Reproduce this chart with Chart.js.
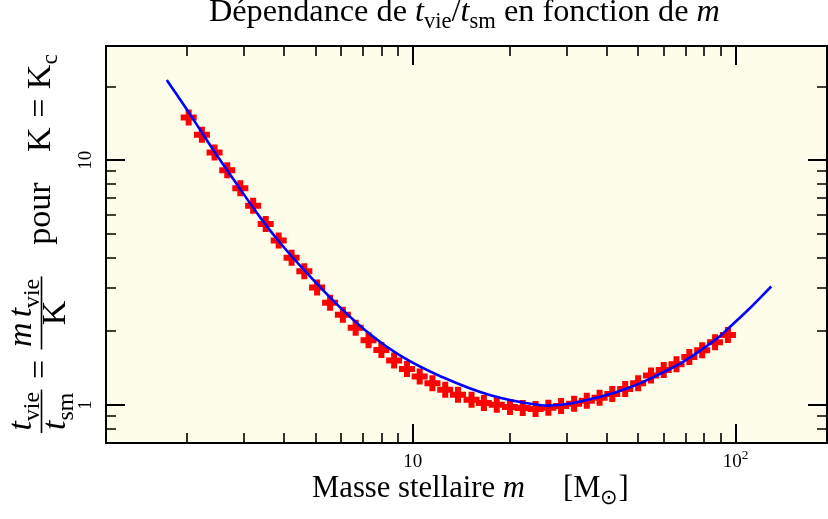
<!DOCTYPE html>
<html lang="fr">
<head>
    <meta charset="UTF-8">
    <script src="https://cdn.jsdelivr.net/npm/chart.js"></script>
    <title>Dépendance de t_vie/t_sm en fonction de m</title>
    <style>
        html, body { margin: 0; padding: 0; background: #fff; overflow: hidden; }
        #chart { display: block; }
    </style>
</head>
<body>
<canvas id="chart" width="828" height="519"></canvas>

<script>
    // points calculés (croix rouges)
    const masses = [2.02, 2.22, 2.43, 2.66, 2.92, 3.20, 3.50, 3.84, 4.21, 4.61,
        5.05, 5.54, 6.07, 6.65, 7.29, 7.99, 8.75, 9.59, 10.5, 11.5,
        12.6, 13.8, 15.2, 16.6, 18.2, 20.0, 21.9, 24.0, 26.3, 28.8,
        31.6, 34.6, 37.9, 41.5, 45.5, 49.9, 54.7, 59.9, 65.6, 71.9,
        78.8, 86.4, 94.7];
    const ratios = [14.96, 12.72, 10.75, 9.11, 7.69, 6.52, 5.49, 4.70, 4.00, 3.52,
        3.02, 2.62, 2.34, 2.07, 1.84, 1.68, 1.52, 1.405, 1.308, 1.229,
        1.154, 1.101, 1.051, 1.019, 1.003, 0.981, 0.972, 0.963, 0.975, 0.991,
        1.012, 1.041, 1.071, 1.111, 1.162, 1.229, 1.320, 1.392, 1.468, 1.572,
        1.673, 1.804, 1.931];

    // ajustement (courbe bleue)
    const fitMasses = [1.728, 2.04, 2.40, 2.85, 3.36, 3.90, 4.56, 5.82, 7.36, 9.23,
        12.12, 17.3, 24.7, 29.1, 37.9, 47, 58.2, 68.7, 87.1, 95.8, 110.5, 129];
    const fitRatios = [21.3, 15.4, 11.1, 7.98, 5.86, 4.56, 3.61, 2.58, 1.95, 1.58,
        1.315, 1.099, 1.00, 1.005, 1.08, 1.18, 1.34, 1.50, 1.86, 2.08, 2.48, 3.05];

    // graduations
    const xMajor = [10, 100];
    const xMajorLabels = ['10', '10'];
    const xMajorExp = ['', '2'];
    const xMinor = [2, 3, 4, 5, 6, 7, 8, 9, 20, 30, 40, 50, 60, 70, 80, 90];
    const yMajor = [1, 10];
    const yMajorLabels = ['1', '10'];
    const yMinor = [0.8, 0.9, 2, 3, 4, 5, 6, 7, 8, 9, 20];

    const SERIF = '"Liberation Serif", "Times New Roman", serif';

    function fontFor(r, size) {
        const s = (r.sub || r.sup) ? size * 0.7 : size;
        return (r.it ? 'italic ' : '') + s.toFixed(2) + 'px ' + SERIF;
    }
    function runsWidth(ctx, runs, size) {
        let w = 0;
        runs.forEach(r => {
            if (r.gap) { w += r.gap * size; return; }
            ctx.font = fontFor(r, size);
            w += ctx.measureText(r.t).width;
        });
        return w;
    }
    function drawRuns(ctx, runs, x, y, size) {
        runs.forEach(r => {
            if (r.gap) { x += r.gap * size; return; }
            ctx.font = fontFor(r, size);
            const dy = r.sub ? size * 0.22 : (r.sup ? -size * 0.4 : 0);
            ctx.fillText(r.t, x, y + dy);
            x += ctx.measureText(r.t).width;
        });
        return x;
    }

    const titleRuns = [
        {t: 'Dépendance de '}, {t: 't', it: true}, {t: 'vie', sub: true}, {t: '/'},
        {t: 't', it: true}, {t: 'sm', sub: true}, {t: ' en fonction de '}, {t: 'm', it: true}
    ];
    const xLabelRuns = [{t: 'Masse stellaire '}, {t: 'm', it: true}];
    const xUnitRuns = [{t: '[M'}, {t: '\u2299', sub: true}, {t: ']'}];
    // label vertical : t_vie/t_sm = m t_vie / K  pour  K = K_c
    const yLabelItems = [
        {frac: {num: [{t: 't', it: true}, {t: 'vie', sub: true}], den: [{t: 't', it: true}, {t: 'sm', sub: true}]}},
        {gap: 0.28}, {runs: [{t: '='}]}, {gap: 0.28},
        {frac: {num: [{t: 'm', it: true}, {gap: 0.15}, {t: 't', it: true}, {t: 'vie', sub: true}], den: [{t: 'K'}]}},
        {gap: 0.9}, {runs: [{t: 'pour'}]}, {gap: 0.9},
        {runs: [{t: 'K'}, {gap: 0.28}, {t: '='}, {gap: 0.28}, {t: 'K'}, {t: 'c', sub: true}]}
    ];

    function itemWidth(ctx, it, size) {
        if (it.gap) return it.gap * size;
        if (it.runs) return runsWidth(ctx, it.runs, size);
        return Math.max(runsWidth(ctx, it.frac.num, size), runsWidth(ctx, it.frac.den, size)) + 0.2 * size;
    }

    const decor = {
        id: 'decor',
        beforeDraw(chart) {
            const ctx = chart.ctx, a = chart.chartArea;
            ctx.save();
            ctx.fillStyle = '#fdfdea';
            ctx.fillRect(a.left, a.top, a.right - a.left, a.bottom - a.top);
            ctx.restore();
        },
        afterDraw(chart) {
            const ctx = chart.ctx, a = chart.chartArea;
            const xs = chart.scales.x, ys = chart.scales.y;
            ctx.save();
            ctx.strokeStyle = '#000';
            ctx.fillStyle = '#000';

            // ticks vers l'interieur, sur les 4 cotes
            function xt(v, len, w) {
                const p = Math.round(xs.getPixelForValue(v));
                ctx.lineWidth = w;
                ctx.beginPath();
                ctx.moveTo(p, a.bottom); ctx.lineTo(p, a.bottom - len);
                ctx.moveTo(p, a.top); ctx.lineTo(p, a.top + len);
                ctx.stroke();
            }
            function yt(v, len, w) {
                const p = Math.round(ys.getPixelForValue(v));
                ctx.lineWidth = w;
                ctx.beginPath();
                ctx.moveTo(a.left, p); ctx.lineTo(a.left + len, p);
                ctx.moveTo(a.right, p); ctx.lineTo(a.right - len, p);
                ctx.stroke();
            }
            xMinor.forEach(v => xt(v, 10, 1.6));
            xMajor.forEach(v => xt(v, 19, 2));
            yMinor.forEach(v => yt(v, 10, 1.6));
            yMajor.forEach(v => yt(v, 19, 2));

            ctx.lineWidth = 2;
            ctx.strokeRect(a.left, a.top, a.right - a.left, a.bottom - a.top);

            // etiquettes des graduations
            ctx.textBaseline = 'alphabetic';
            ctx.textAlign = 'left';
            const tickSize = 19;
            xMajor.forEach((v, i) => {
                const runs = [{t: xMajorLabels[i]}];
                if (xMajorExp[i]) runs.push({t: xMajorExp[i], sup: true});
                const w = runsWidth(ctx, runs, tickSize);
                drawRuns(ctx, runs, xs.getPixelForValue(v) - w / 2, 467, tickSize);
            });
            yMajor.forEach((v, i) => {
                ctx.save();
                ctx.translate(91, ys.getPixelForValue(v));
                ctx.rotate(-Math.PI / 2);
                const runs = [{t: yMajorLabels[i]}];
                const w = runsWidth(ctx, runs, tickSize);
                drawRuns(ctx, runs, -w / 2, 0, tickSize);
                ctx.restore();
            });

            // titre
            let w0 = runsWidth(ctx, titleRuns, 20);
            let s = 20 * 511 / w0;
            drawRuns(ctx, titleRuns, 209, 21, s);

            // axe x
            w0 = runsWidth(ctx, xLabelRuns, 22);
            s = 22 * 213 / w0;
            drawRuns(ctx, xLabelRuns, 312, 497, s);
            drawRuns(ctx, xUnitRuns, 563, 497, s);

            // axe y (texte tourne)
            const ySize = 34;
            let total = 0;
            yLabelItems.forEach(it => { total += itemWidth(ctx, it, ySize); });
            ctx.save();
            ctx.translate(50, 244);
            ctx.rotate(-Math.PI / 2);
            let u = -total / 2;
            const axis = 0.25 * ySize;
            yLabelItems.forEach(it => {
                const w = itemWidth(ctx, it, ySize);
                if (it.runs) {
                    drawRuns(ctx, it.runs, u, 0, ySize);
                } else if (it.frac) {
                    const nw = runsWidth(ctx, it.frac.num, ySize);
                    const dw = runsWidth(ctx, it.frac.den, ySize);
                    drawRuns(ctx, it.frac.num, u + (w - nw) / 2, -axis - 0.3 * ySize, ySize);
                    drawRuns(ctx, it.frac.den, u + (w - dw) / 2, -axis + 0.7 * ySize, ySize);
                    ctx.fillRect(u + 1, -axis - 0.8, w - 2, 1.6);
                }
                u += w;
            });
            ctx.restore();

            ctx.restore();
        }
    };

    new Chart(document.getElementById('chart'), {
        type: 'scatter',
        data: {
            datasets: [{
                label: 'ajustement',
                data: fitMasses.map((m, i) => ({x: m, y: fitRatios[i]})),
                showLine: true,
                borderColor: '#0000ff',
                borderWidth: 2.6,
                pointRadius: 0,
                fill: false,
                tension: 0.4
            }, {
                label: 'calcul',
                data: masses.map((m, i) => ({x: m, y: ratios[i]})),
                showLine: false,
                pointStyle: 'cross',
                pointRadius: 8,
                borderWidth: 6,
                borderColor: '#ff0000',
                backgroundColor: '#ff0000'
            }]
        },
        options: {
            responsive: false,
            animation: false,
            devicePixelRatio: 1,
            layout: { autoPadding: false, padding: { left: 106, top: 46, right: 1, bottom: 76 } },
            scales: {
                x: { type: 'logarithmic', min: 1.12, max: 192, display: false },
                y: { type: 'logarithmic', min: 0.714, max: 29.3, display: false }
            },
            plugins: {
                legend: { display: false },
                tooltip: { enabled: false },
                title: { display: false }
            }
        },
        plugins: [decor]
    });
</script>
</body>
</html>
